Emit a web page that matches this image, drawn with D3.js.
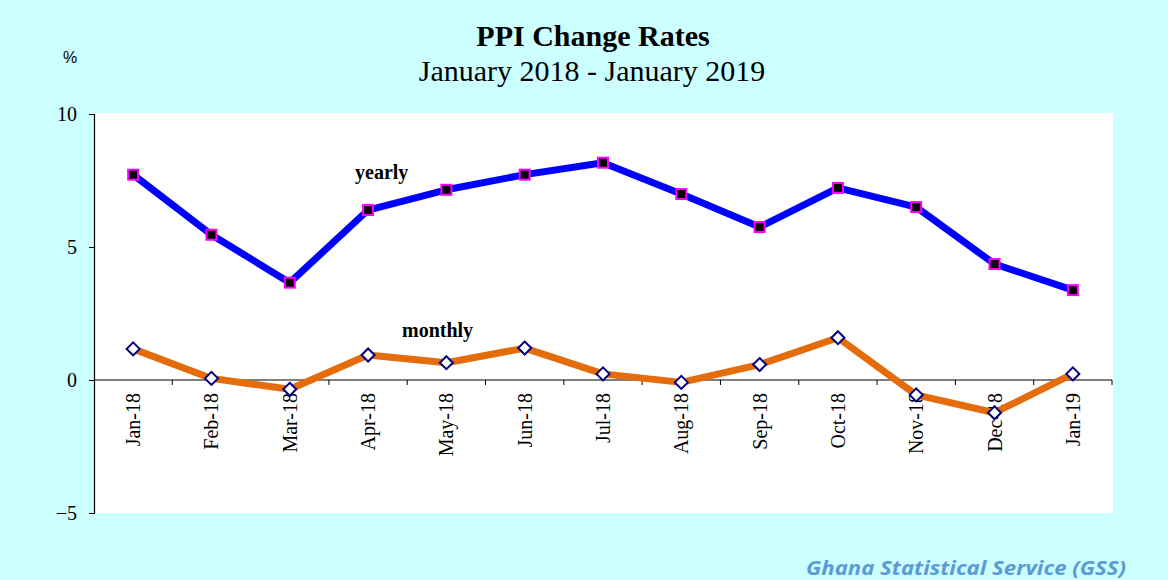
<!DOCTYPE html>
<html><head><meta charset="utf-8">
<script src="https://cdn.jsdelivr.net/npm/d3@7"></script>
<style>body{margin:0;background:#ccffff;}svg{display:block;}</style>
</head><body>
<script>
const categories = ["Jan-18","Feb-18","Mar-18","Apr-18","May-18","Jun-18","Jul-18","Aug-18","Sep-18","Oct-18","Nov-18","Dec-18","Jan-19"];
const yearly  = [7.72, 5.46, 3.66, 6.39, 7.15, 7.72, 8.17, 6.99, 5.75, 7.22, 6.50, 4.36, 3.38];
const monthly = [1.17, 0.06, -0.35, 0.94, 0.65, 1.20, 0.23, -0.09, 0.58, 1.59, -0.56, -1.23, 0.23];
const yTicks = [-5, 0, 5, 10];

(function(){
const W = 1168, H = 580;
const serif = "Liberation Serif, Times New Roman, serif";
const svg = d3.select("body").append("svg").attr("width", W).attr("height", H);
svg.append("rect").attr("width", W).attr("height", H).attr("fill", "#ccffff");

const pl = 94, pr = 1112, pt = 114, pb = 513;
svg.append("rect").attr("x", pl).attr("y", pt - 1).attr("width", pr - pl + 1).attr("height", pb - pt + 1).attr("fill", "#fff");

const x = d3.scaleBand().domain(categories).range([pl, pr]).padding(0);
const y = d3.scaleLinear().domain([-5, 10]).range([pb, pt]);

// Y axis
const yAxis = svg.append("g").attr("transform", `translate(${pl},0)`)
  .call(d3.axisLeft(y).tickValues(yTicks).tickSize(5).tickPadding(12));
yAxis.select(".domain").attr("stroke", "#000").attr("stroke-width", 1.2);
yAxis.selectAll("line").attr("stroke", "#000");
yAxis.selectAll("text").attr("font-family", serif).attr("font-size", 20).attr("fill", "#000");

// X axis at zero
const xAxisG = svg.append("g").attr("transform", `translate(0,${y(0)})`);
xAxisG.append("line").attr("x1", pl).attr("x2", pr).attr("stroke", "#000").attr("stroke-width", 1.2);
const boundaries = categories.slice(1).map(c => x(c));
boundaries.push(pr);
xAxisG.selectAll("line.tk").data(boundaries).enter().append("line").attr("class","tk")
  .attr("x1", d => d).attr("x2", d => d).attr("y1", 0).attr("y2", 5).attr("stroke", "#000");
xAxisG.selectAll("text").data(categories).enter().append("text")
  .attr("transform", d => `translate(${x(d) + x.bandwidth()/2},13) rotate(-90)`)
  .attr("text-anchor", "end").attr("dy", "0.35em")
  .attr("font-family", serif).attr("font-size", 20).attr("fill", "#000")
  .text(d => d);

const cx = d => x(d) + x.bandwidth()/2;

// Lines
const line = d3.line().x((d, i) => cx(categories[i])).y(d => y(d));
svg.append("path").datum(yearly).attr("d", line).attr("fill", "none").attr("stroke", "#0000ff").attr("stroke-width", 7).attr("stroke-linejoin", "round");
svg.append("path").datum(monthly).attr("d", line).attr("fill", "none").attr("stroke", "#e46c0a").attr("stroke-width", 7).attr("stroke-linejoin", "round");

// Markers yearly
svg.selectAll("rect.ym").data(yearly).enter().append("rect").attr("class","ym")
  .attr("x", (d, i) => cx(categories[i]) - 5).attr("y", d => y(d) - 5)
  .attr("width", 10).attr("height", 10).attr("fill", "#000").attr("stroke", "#ff00ff").attr("stroke-width", 2);
// Markers monthly (diamonds)
svg.selectAll("path.mm").data(monthly).enter().append("path").attr("class","mm")
  .attr("transform", (d, i) => `translate(${cx(categories[i])},${y(d)})`)
  .attr("d", "M0,-6.5L6.5,0L0,6.5L-6.5,0Z").attr("fill", "#fff").attr("stroke", "#000080").attr("stroke-width", 2);

// Series labels
svg.append("text").attr("x", 355).attr("y", 179).attr("font-family", serif)
  .attr("font-weight", "bold").attr("font-size", 20).text("yearly");
svg.append("text").attr("x", 402).attr("y", 337).attr("font-family", serif)
  .attr("font-weight", "bold").attr("font-size", 20).text("monthly");

// Titles
svg.append("text").attr("x", 593).attr("y", 46).attr("text-anchor", "middle").attr("font-family", serif)
  .attr("font-weight", "bold").attr("font-size", 30).text("PPI Change Rates");
svg.append("text").attr("x", 592).attr("y", 81).attr("text-anchor", "middle").attr("font-family", serif)
  .attr("font-size", 30).text("January 2018 - January 2019");
svg.append("text").attr("x", 63).attr("y", 63).attr("font-family", "Liberation Sans, Arial, sans-serif").attr("font-size", 16).text("%");

// Footer
svg.append("text").attr("x", 806).attr("y", 575).attr("font-family", "Open Sans, Noto Sans, sans-serif")
  .attr("font-style", "italic").attr("font-weight", "bold").attr("font-size", 19).attr("fill", "#5b9bd5")
  .attr("textLength", 320).attr("lengthAdjust", "spacingAndGlyphs").text("Ghana Statistical Service (GSS)");
})();
</script>
</body></html>
